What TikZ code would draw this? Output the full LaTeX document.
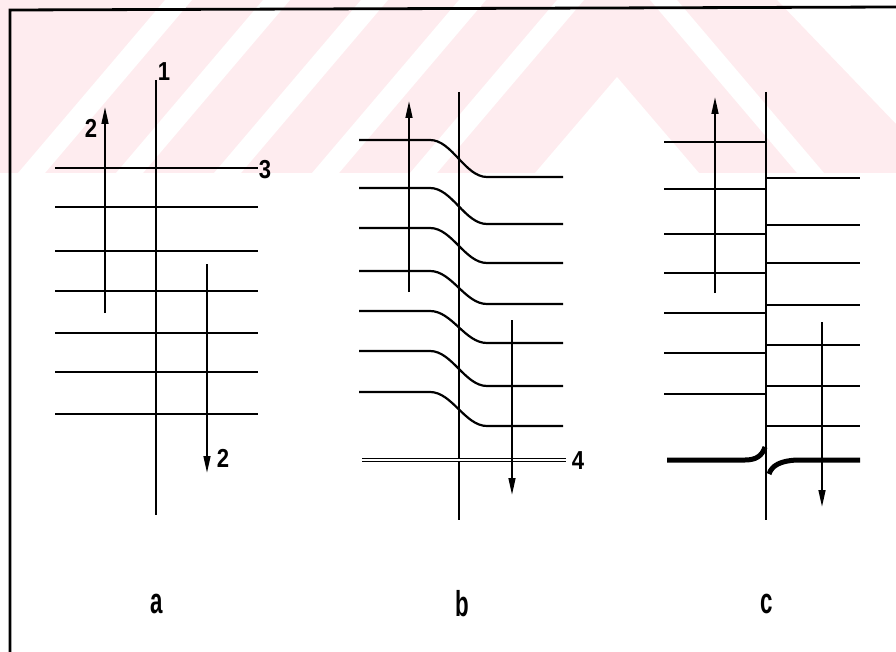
\documentclass[tikz,border=0pt]{standalone}
\usepackage{fontspec}
\setmainfont{Liberation Sans}
\usetikzlibrary{arrows.meta}
\definecolor{wmpink}{RGB}{254,236,239}
\tikzset{
  frame/.style={line width=2.8pt},
  axis/.style={line width=1.6pt},
  level/.style={line width=2.2pt},
  flow/.style={line width=2.8pt,-{Triangle[length=18pt,width=6.5pt]}},
  num/.style={font=\bfseries\fontsize{26}{26}\selectfont,xscale=0.85,inner sep=0pt},
  panel/.style={font=\bfseries\fontsize{36}{36}\selectfont,xscale=0.62,inner sep=0pt}
}
\begin{document}
\begin{tikzpicture}[x=1pt,y=-1pt]
\useasboundingbox (0,0) rectangle (896,652);
% watermark
\fill[wmpink] (0,0) -- (777,0) -- (896,124) -- (896,173) -- (0,173) -- cycle;
\foreach \b in {18,116,214,312,410}
  \fill[white] (\b,173) -- (\b+27,173) -- (\b+174,0) -- (\b+147,0) -- cycle;
\fill[white] (535,173) -- (617,77) -- (699,173) -- cycle;
\fill[white] (797,173) -- (824,173) -- (677,0) -- (650,0) -- cycle;
\draw[frame] (10,652) -- (10,10) -- (896,7);

% a
\draw[axis] (156,80) -- (156,515);
\node[num] (n1) at (164,72) {1};
\foreach \yy in {168,207,251,291,333,372,414}
  \draw[level] (55,\yy) -- (258,\yy);
\node[num] (n3) at (265,170) {3};
\coordinate (aup0) at (105,313);
\coordinate (aup1) at (105,106);
\draw[flow] (aup0) -- (aup1);
\node[num] (n2up) at (91,128) {2};
\coordinate (adn0) at (207,264);
\coordinate (adn1) at (207,474);
\draw[flow] (adn0) -- (adn1);
\node[num] (n2dn) at (223,458) {2};
\node[panel] (pa) at (157,604) {a};

% b
\draw[axis] (459,92) -- (459,520);
\foreach \yl/\yr in {140/177,188/224,228/263,271/304,311/343,351/386,392/426}
  \draw[level] (359,\yl) -- (430,\yl) .. controls (452,\yl) and (465,\yr) .. (487,\yr) -- (563,\yr);
\draw[double,double distance=1.6pt,line width=1.3pt] (362,460) -- (566,460);
\node[num] (n4) at (578,461) {4};
\coordinate (bup0) at (409,292);
\coordinate (bup1) at (409,100);
\draw[flow] (bup0) -- (bup1);
\coordinate (bdn0) at (512,320);
\coordinate (bdn1) at (512,496);
\draw[flow] (bdn0) -- (bdn1);
\node[panel] (pb) at (462,604) {b};

% c
\draw[axis] (766,92) -- (766,520);
\foreach \yy in {142,189,234,273,313,353,394}
  \draw[level] (664,\yy) -- (766,\yy);
\foreach \yy in {178,225,263,305,345,386,426}
  \draw[level] (766,\yy) -- (860,\yy);
\draw[line width=5pt] (667,460) -- (745,460) .. controls (756,460) and (762,456) .. (765,447);
\draw[line width=5pt] (769,474) .. controls (772,465) and (781,461) .. (796,460) -- (860,460);
\coordinate (cup0) at (715,293);
\coordinate (cup1) at (715,96);
\draw[flow] (cup0) -- (cup1);
\coordinate (cdn0) at (822,322);
\coordinate (cdn1) at (822,508);
\draw[flow] (cdn0) -- (cdn1);
\node[panel] (pc) at (767,604) {c};
\end{tikzpicture}
\end{document}
